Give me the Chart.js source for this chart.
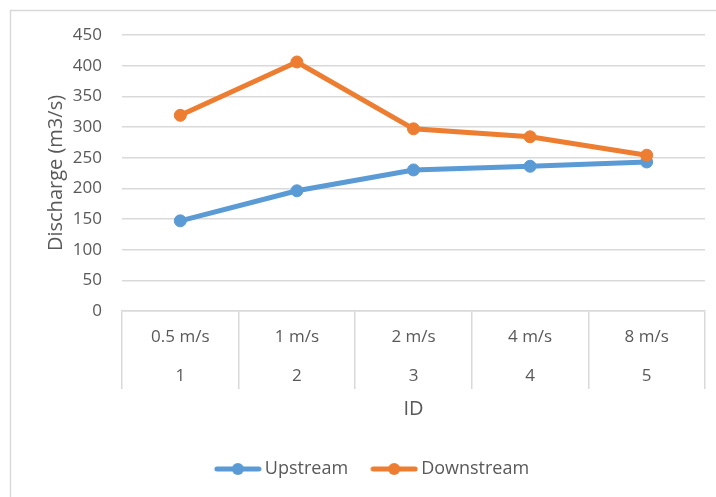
<!DOCTYPE html>
<html>
<head>
<meta charset="utf-8">
<script src="https://cdn.jsdelivr.net/npm/chart.js@4.4.1/dist/chart.umd.min.js"></script>
<style>
  html, body { margin: 0; padding: 0; background: #fff; overflow: hidden; }
  canvas { display: block; }
</style>
</head>
<body>
<canvas id="chart" width="716" height="497"></canvas>
<script>
// Flow velocity (top row) and run ID (bottom row) for each case
const speeds = ['0.5 m/s', '1 m/s', '2 m/s', '4 m/s', '8 m/s'];
const ids = ['1', '2', '3', '4', '5'];

// Discharge in m3/s
const upstream = [147, 196, 230, 236, 243];
const downstream = [319, 406, 297, 284, 254];

// Value axis range
const yMin = 0;
const yMax = 450;
const yStep = 50;

const TEXT = '#595959';
const GRID = '#d9d9d9';
const BLUE = '#5b9bd5';
const ORANGE = '#ed7d31';
const FONT = "'Open Sans', sans-serif";

// Two-row category labels
const labels = speeds.map((s, i) => [s, ids[i]]);

// Legend marker: a short line with a dot in the middle
function legendMarker(color) {
  const c = document.createElement('canvas');
  c.width = 48; c.height = 14;
  const g = c.getContext('2d');
  g.strokeStyle = color;
  g.lineWidth = 5;
  g.lineCap = 'round';
  g.beginPath(); g.moveTo(3, 7); g.lineTo(45, 7); g.stroke();
  g.fillStyle = color;
  g.beginPath(); g.arc(24, 7, 6, 0, Math.PI * 2); g.fill();
  return c;
}

// White page with the light frame around the chart
const frame = {
  id: 'frame',
  beforeDraw(chart) {
    const ctx = chart.ctx;
    ctx.save();
    ctx.fillStyle = '#fff';
    ctx.fillRect(0, 0, chart.width, chart.height);
    ctx.strokeStyle = GRID;
    ctx.lineWidth = 1.5;
    ctx.strokeRect(10.5, 10.5, chart.width + 40, chart.height + 40);
    ctx.restore();
  }
};

// Centre the legend under the whole frame
const legendShift = {
  id: 'legendShift',
  afterLayout(chart) {
    const l = chart.legend;
    if (l) { l.left += 22; l.right += 22; }
  }
};

new Chart(document.getElementById('chart'), {
  type: 'line',
  data: {
    labels: labels,
    datasets: [
      {
        label: 'Upstream',
        data: upstream,
        borderColor: BLUE,
        backgroundColor: BLUE,
        pointBackgroundColor: BLUE,
        pointBorderColor: BLUE,
        borderWidth: 5,
        pointRadius: 6,
        pointBorderWidth: 1,
        tension: 0,
        order: 1
      },
      {
        label: 'Downstream',
        data: downstream,
        borderColor: ORANGE,
        backgroundColor: ORANGE,
        pointBackgroundColor: ORANGE,
        pointBorderColor: ORANGE,
        borderWidth: 5,
        pointRadius: 6,
        pointBorderWidth: 1,
        tension: 0,
        order: 0
      }
    ]
  },
  options: {
    responsive: false,
    animation: false,
    layout: { padding: { top: 35, right: 11, left: 0, bottom: 9 } },
    plugins: {
      tooltip: { enabled: false },
      legend: {
        position: 'bottom',
        labels: {
          usePointStyle: true,
          pointStyleWidth: 36,
          padding: 28,
          color: TEXT,
          font: { family: FONT, size: 18 },
          generateLabels(chart) {
            return chart.data.datasets.map((ds, i) => ({
              text: ds.label,
              fontColor: TEXT,
              pointStyle: legendMarker(ds.borderColor),
              lineWidth: 0,
              strokeStyle: ds.borderColor,
              fillStyle: ds.borderColor,
              hidden: false,
              datasetIndex: i
            }));
          }
        }
      }
    },
    scales: {
      x: {
        offset: true,
        grid: {
          offset: true,
          drawOnChartArea: false,
          drawTicks: true,
          tickLength: 78,
          color: GRID,
          lineWidth: 1.5
        },
        border: { display: true, color: GRID, width: 1.5 },
        ticks: {
          color: TEXT,
          font: { family: FONT, size: 17, lineHeight: 39 / 17 },
          padding: -71.5,
          maxRotation: 0,
          autoSkip: false
        },
        title: {
          display: true,
          text: 'ID',
          color: TEXT,
          font: { family: FONT, size: 20 },
          padding: { top: 2, bottom: 11 }
        },
        afterFit(scale) { scale.height = 121; }
      },
      y: {
        min: yMin,
        max: yMax,
        ticks: {
          stepSize: yStep,
          color: TEXT,
          font: { family: FONT, size: 17 },
          padding: 20
        },
        grid: { color: GRID, lineWidth: 1.5, drawTicks: false },
        border: { display: false },
        title: {
          display: true,
          text: 'Discharge (m3/s)',
          color: TEXT,
          font: { family: FONT, size: 20 },
          padding: { top: 44, bottom: 0 }
        },
        afterFit(scale) { scale.width = 122; }
      }
    }
  },
  plugins: [frame, legendShift]
});
</script>
</body>
</html>
